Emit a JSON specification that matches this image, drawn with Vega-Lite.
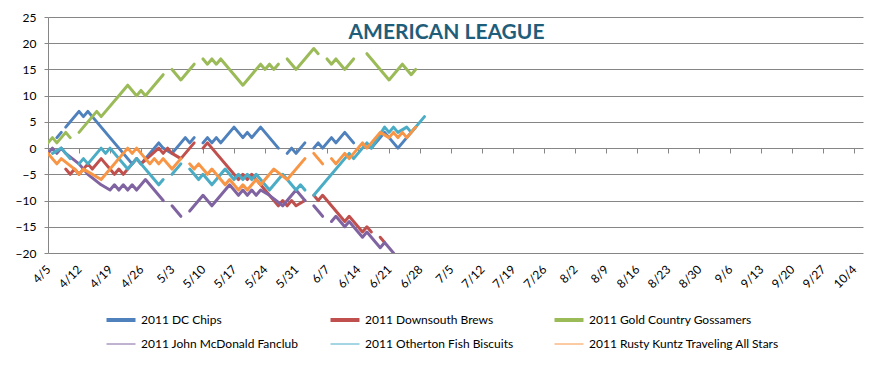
{
"$schema":"https://vega.github.io/schema/vega-lite/v6.json",
"width":815,"height":236,
"autosize":{"type":"none"},
"padding":{"left":48,"top":17,"right":25,"bottom":115},
"background":"white",
"config":{"view":{"stroke":null},"font":"Lato"},
"title":{"text":"AMERICAN LEAGUE","font":"Lato","fontSize":21,"fontWeight":"bold","color":"#1F5E7A","anchor":"middle","frame":"group","baseline":"alphabetic","offset":0,"dy":49,"dx":-9},
"datasets":{"teams":[
{"t":"DC","team":"2011 DC Chips"},
{"t":"DB","team":"2011 Downsouth  Brews"},
{"t":"G","team":"2011 Gold Country Gossamers"},
{"t":"JM","team":"2011 John McDonald  Fanclub"},
{"t":"OF","team":"2011 Otherton Fish Biscuits"},
{"t":"RK","team":"2011 Rusty Kuntz Traveling All Stars"}
]},
"data":{"values":[
{"t":"DC","d":"2011-04-07","v":2,"s":1},{"t":"DC","d":"2011-04-08","v":3,"s":1},
{"t":"DC","d":"2011-04-09","v":4,"s":2},{"t":"DC","d":"2011-04-12","v":7,"s":2},{"t":"DC","d":"2011-04-13","v":6,"s":2},{"t":"DC","d":"2011-04-14","v":7,"s":2},{"t":"DC","d":"2011-04-15","v":6,"s":2},{"t":"DC","d":"2011-04-21","v":0,"s":2},{"t":"DC","d":"2011-04-24","v":-3,"s":2},{"t":"DC","d":"2011-04-25","v":-2,"s":2},{"t":"DC","d":"2011-04-26","v":-3,"s":2},{"t":"DC","d":"2011-04-30","v":1,"s":2},{"t":"DC","d":"2011-05-01","v":0,"s":2},{"t":"DC","d":"2011-05-03","v":-1,"s":2},{"t":"DC","d":"2011-05-06","v":2,"s":2},{"t":"DC","d":"2011-05-07","v":1,"s":2},{"t":"DC","d":"2011-05-08","v":2,"s":2},
{"t":"DC","d":"2011-05-10","v":1,"s":3},{"t":"DC","d":"2011-05-11","v":2,"s":3},{"t":"DC","d":"2011-05-12","v":1,"s":3},{"t":"DC","d":"2011-05-13","v":2,"s":3},{"t":"DC","d":"2011-05-14","v":1,"s":3},{"t":"DC","d":"2011-05-17","v":4,"s":3},{"t":"DC","d":"2011-05-19","v":2,"s":3},{"t":"DC","d":"2011-05-20","v":3,"s":3},{"t":"DC","d":"2011-05-21","v":2,"s":3},{"t":"DC","d":"2011-05-23","v":4,"s":3},{"t":"DC","d":"2011-05-27","v":0,"s":3},
{"t":"DC","d":"2011-05-29","v":-1,"s":4},{"t":"DC","d":"2011-05-30","v":0,"s":4},{"t":"DC","d":"2011-05-31","v":-1,"s":4},{"t":"DC","d":"2011-06-02","v":1,"s":4},
{"t":"DC","d":"2011-06-04","v":0,"s":5},{"t":"DC","d":"2011-06-05","v":1,"s":5},{"t":"DC","d":"2011-06-06","v":0,"s":5},{"t":"DC","d":"2011-06-08","v":2,"s":5},{"t":"DC","d":"2011-06-09","v":1,"s":5},{"t":"DC","d":"2011-06-11","v":3,"s":5},{"t":"DC","d":"2011-06-13","v":1,"s":5},
{"t":"DC","d":"2011-06-17","v":0,"s":6},{"t":"DC","d":"2011-06-20","v":3,"s":6},{"t":"DC","d":"2011-06-23","v":0,"s":6},{"t":"DC","d":"2011-06-27","v":4,"s":6},

{"t":"DB","d":"2011-04-09","v":-4,"s":1},{"t":"DB","d":"2011-04-10","v":-5,"s":1},{"t":"DB","d":"2011-04-11","v":-4,"s":1},{"t":"DB","d":"2011-04-12","v":-5,"s":1},{"t":"DB","d":"2011-04-14","v":-3,"s":1},{"t":"DB","d":"2011-04-15","v":-4,"s":1},{"t":"DB","d":"2011-04-17","v":-2,"s":1},{"t":"DB","d":"2011-04-20","v":-5,"s":1},{"t":"DB","d":"2011-04-21","v":-4,"s":1},{"t":"DB","d":"2011-04-22","v":-5,"s":1},{"t":"DB","d":"2011-04-24","v":-3,"s":1},{"t":"DB","d":"2011-04-25","v":-2,"s":1},{"t":"DB","d":"2011-04-26","v":-3,"s":1},{"t":"DB","d":"2011-04-30","v":0,"s":1},{"t":"DB","d":"2011-05-01","v":-1,"s":1},{"t":"DB","d":"2011-05-02","v":0,"s":1},{"t":"DB","d":"2011-05-03","v":-1,"s":1},{"t":"DB","d":"2011-05-05","v":-2,"s":1},{"t":"DB","d":"2011-05-08","v":1,"s":1},
{"t":"DB","d":"2011-05-10","v":0,"s":2},{"t":"DB","d":"2011-05-11","v":1,"s":2},{"t":"DB","d":"2011-05-17","v":-5,"s":2},{"t":"DB","d":"2011-05-18","v":-6,"s":2},{"t":"DB","d":"2011-05-19","v":-5,"s":2},{"t":"DB","d":"2011-05-20","v":-6,"s":2},{"t":"DB","d":"2011-05-21","v":-5,"s":2},{"t":"DB","d":"2011-05-22","v":-6,"s":2},{"t":"DB","d":"2011-05-27","v":-11,"s":2},{"t":"DB","d":"2011-05-28","v":-10,"s":2},{"t":"DB","d":"2011-05-29","v":-11,"s":2},{"t":"DB","d":"2011-05-30","v":-10,"s":2},{"t":"DB","d":"2011-05-31","v":-11,"s":2},{"t":"DB","d":"2011-06-02","v":-10,"s":2},
{"t":"DB","d":"2011-06-04","v":-9,"s":3},{"t":"DB","d":"2011-06-05","v":-10,"s":3},{"t":"DB","d":"2011-06-06","v":-9,"s":3},{"t":"DB","d":"2011-06-11","v":-14,"s":3},{"t":"DB","d":"2011-06-12","v":-13,"s":3},{"t":"DB","d":"2011-06-14","v":-15,"s":3},{"t":"DB","d":"2011-06-15","v":-16,"s":3},{"t":"DB","d":"2011-06-16","v":-15,"s":3},{"t":"DB","d":"2011-06-17","v":-16,"s":3},
{"t":"DB","d":"2011-06-19","v":-17,"s":4},{"t":"DB","d":"2011-06-20","v":-18,"s":4},

{"t":"G","d":"2011-04-05","v":1,"s":1},{"t":"G","d":"2011-04-06","v":2,"s":1},{"t":"G","d":"2011-04-07","v":1,"s":1},{"t":"G","d":"2011-04-09","v":3,"s":1},{"t":"G","d":"2011-04-10","v":2,"s":1},
{"t":"G","d":"2011-04-12","v":3,"s":2},{"t":"G","d":"2011-04-16","v":7,"s":2},{"t":"G","d":"2011-04-17","v":6,"s":2},{"t":"G","d":"2011-04-21","v":10,"s":2},{"t":"G","d":"2011-04-23","v":12,"s":2},{"t":"G","d":"2011-04-25","v":10,"s":2},{"t":"G","d":"2011-04-26","v":11,"s":2},{"t":"G","d":"2011-04-27","v":10,"s":2},{"t":"G","d":"2011-05-01","v":14,"s":2},
{"t":"G","d":"2011-05-03","v":15,"s":3},{"t":"G","d":"2011-05-05","v":13,"s":3},{"t":"G","d":"2011-05-08","v":16,"s":3},
{"t":"G","d":"2011-05-10","v":17,"s":4},{"t":"G","d":"2011-05-11","v":16,"s":4},{"t":"G","d":"2011-05-12","v":17,"s":4},{"t":"G","d":"2011-05-13","v":16,"s":4},{"t":"G","d":"2011-05-14","v":17,"s":4},{"t":"G","d":"2011-05-19","v":12,"s":4},{"t":"G","d":"2011-05-23","v":16,"s":4},{"t":"G","d":"2011-05-24","v":15,"s":4},{"t":"G","d":"2011-05-25","v":16,"s":4},{"t":"G","d":"2011-05-26","v":15,"s":4},{"t":"G","d":"2011-05-27","v":16,"s":4},
{"t":"G","d":"2011-05-29","v":17,"s":5},{"t":"G","d":"2011-05-31","v":15,"s":5},{"t":"G","d":"2011-06-04","v":19,"s":5},{"t":"G","d":"2011-06-05","v":18,"s":5},
{"t":"G","d":"2011-06-07","v":17,"s":6},{"t":"G","d":"2011-06-08","v":16,"s":6},{"t":"G","d":"2011-06-09","v":17,"s":6},{"t":"G","d":"2011-06-11","v":15,"s":6},{"t":"G","d":"2011-06-13","v":17,"s":6},
{"t":"G","d":"2011-06-16","v":18,"s":7},{"t":"G","d":"2011-06-21","v":13,"s":7},{"t":"G","d":"2011-06-24","v":16,"s":7},{"t":"G","d":"2011-06-26","v":14,"s":7},{"t":"G","d":"2011-06-27","v":15,"s":7},

{"t":"JM","d":"2011-04-05","v":-1,"s":1},{"t":"JM","d":"2011-04-06","v":0,"s":1},{"t":"JM","d":"2011-04-07","v":-1,"s":1},{"t":"JM","d":"2011-04-08","v":0,"s":1},{"t":"JM","d":"2011-04-09","v":-1,"s":1},{"t":"JM","d":"2011-04-12","v":-3,"s":1},{"t":"JM","d":"2011-04-14","v":-5,"s":1},{"t":"JM","d":"2011-04-17","v":-7,"s":1},{"t":"JM","d":"2011-04-19","v":-8,"s":1},{"t":"JM","d":"2011-04-20","v":-7,"s":1},{"t":"JM","d":"2011-04-21","v":-8,"s":1},{"t":"JM","d":"2011-04-22","v":-7,"s":1},{"t":"JM","d":"2011-04-23","v":-8,"s":1},{"t":"JM","d":"2011-04-24","v":-7,"s":1},{"t":"JM","d":"2011-04-25","v":-8,"s":1},{"t":"JM","d":"2011-04-27","v":-6,"s":1},{"t":"JM","d":"2011-05-01","v":-10,"s":1},
{"t":"JM","d":"2011-05-03","v":-11,"s":2},{"t":"JM","d":"2011-05-05","v":-13,"s":2},
{"t":"JM","d":"2011-05-07","v":-12,"s":3},{"t":"JM","d":"2011-05-10","v":-9,"s":3},{"t":"JM","d":"2011-05-12","v":-11,"s":3},{"t":"JM","d":"2011-05-16","v":-7,"s":3},{"t":"JM","d":"2011-05-18","v":-9,"s":3},{"t":"JM","d":"2011-05-19","v":-8,"s":3},{"t":"JM","d":"2011-05-20","v":-9,"s":3},{"t":"JM","d":"2011-05-21","v":-8,"s":3},{"t":"JM","d":"2011-05-22","v":-9,"s":3},{"t":"JM","d":"2011-05-23","v":-8,"s":3},{"t":"JM","d":"2011-05-25","v":-9,"s":3},{"t":"JM","d":"2011-05-28","v":-11,"s":3},{"t":"JM","d":"2011-05-29","v":-10,"s":3},{"t":"JM","d":"2011-05-31","v":-8,"s":3},{"t":"JM","d":"2011-06-02","v":-10,"s":3},
{"t":"JM","d":"2011-06-04","v":-11,"s":4},{"t":"JM","d":"2011-06-06","v":-13,"s":4},
{"t":"JM","d":"2011-06-08","v":-14,"s":5},{"t":"JM","d":"2011-06-09","v":-13,"s":5},{"t":"JM","d":"2011-06-11","v":-15,"s":5},{"t":"JM","d":"2011-06-12","v":-14,"s":5},{"t":"JM","d":"2011-06-13","v":-15,"s":5},{"t":"JM","d":"2011-06-15","v":-17,"s":5},{"t":"JM","d":"2011-06-16","v":-16,"s":5},{"t":"JM","d":"2011-06-17","v":-17,"s":5},{"t":"JM","d":"2011-06-19","v":-19,"s":5},{"t":"JM","d":"2011-06-20","v":-18,"s":5},{"t":"JM","d":"2011-06-22","v":-20,"s":5},

{"t":"OF","d":"2011-04-06","v":-1,"s":1},{"t":"OF","d":"2011-04-08","v":0,"s":1},{"t":"OF","d":"2011-04-10","v":-2,"s":1},
{"t":"OF","d":"2011-04-12","v":-3,"s":2},{"t":"OF","d":"2011-04-13","v":-2,"s":2},{"t":"OF","d":"2011-04-14","v":-3,"s":2},{"t":"OF","d":"2011-04-17","v":0,"s":2},{"t":"OF","d":"2011-04-18","v":-1,"s":2},{"t":"OF","d":"2011-04-19","v":0,"s":2},{"t":"OF","d":"2011-04-23","v":-4,"s":2},{"t":"OF","d":"2011-04-24","v":-3,"s":2},{"t":"OF","d":"2011-04-25","v":-2,"s":2},{"t":"OF","d":"2011-04-30","v":-7,"s":2},{"t":"OF","d":"2011-05-01","v":-6,"s":2},
{"t":"OF","d":"2011-05-03","v":-5,"s":3},{"t":"OF","d":"2011-05-05","v":-3,"s":3},
{"t":"OF","d":"2011-05-07","v":-4,"s":4},{"t":"OF","d":"2011-05-09","v":-6,"s":4},{"t":"OF","d":"2011-05-10","v":-5,"s":4},{"t":"OF","d":"2011-05-12","v":-7,"s":4},{"t":"OF","d":"2011-05-15","v":-4,"s":4},{"t":"OF","d":"2011-05-17","v":-6,"s":4},{"t":"OF","d":"2011-05-18","v":-5,"s":4},{"t":"OF","d":"2011-05-19","v":-6,"s":4},{"t":"OF","d":"2011-05-20","v":-5,"s":4},{"t":"OF","d":"2011-05-21","v":-6,"s":4},{"t":"OF","d":"2011-05-22","v":-5,"s":4},{"t":"OF","d":"2011-05-25","v":-8,"s":4},{"t":"OF","d":"2011-05-28","v":-5,"s":4},{"t":"OF","d":"2011-05-31","v":-8,"s":4},{"t":"OF","d":"2011-06-01","v":-7,"s":4},{"t":"OF","d":"2011-06-02","v":-8,"s":4},
{"t":"OF","d":"2011-06-04","v":-9,"s":5},{"t":"OF","d":"2011-06-12","v":-1,"s":5},{"t":"OF","d":"2011-06-13","v":-2,"s":5},{"t":"OF","d":"2011-06-16","v":1,"s":5},{"t":"OF","d":"2011-06-17","v":0,"s":5},{"t":"OF","d":"2011-06-20","v":4,"s":5},{"t":"OF","d":"2011-06-21","v":3,"s":5},{"t":"OF","d":"2011-06-22","v":4,"s":5},{"t":"OF","d":"2011-06-23","v":3,"s":5},{"t":"OF","d":"2011-06-25","v":4,"s":5},{"t":"OF","d":"2011-06-26","v":3,"s":5},{"t":"OF","d":"2011-06-29","v":6,"s":5},

{"t":"RK","d":"2011-04-05","v":-1,"s":1},{"t":"RK","d":"2011-04-07","v":-3,"s":1},{"t":"RK","d":"2011-04-08","v":-2,"s":1},{"t":"RK","d":"2011-04-11","v":-4,"s":1},{"t":"RK","d":"2011-04-12","v":-5,"s":1},{"t":"RK","d":"2011-04-13","v":-4,"s":1},{"t":"RK","d":"2011-04-17","v":-6,"s":1},{"t":"RK","d":"2011-04-23","v":0,"s":1},{"t":"RK","d":"2011-04-24","v":-1,"s":1},{"t":"RK","d":"2011-04-25","v":0,"s":1},{"t":"RK","d":"2011-04-26","v":-1,"s":1},{"t":"RK","d":"2011-04-28","v":-3,"s":1},{"t":"RK","d":"2011-04-29","v":-2,"s":1},{"t":"RK","d":"2011-04-30","v":-3,"s":1},{"t":"RK","d":"2011-05-01","v":-2,"s":1},{"t":"RK","d":"2011-05-03","v":-4,"s":1},{"t":"RK","d":"2011-05-05","v":-2,"s":1},
{"t":"RK","d":"2011-05-07","v":-3,"s":2},{"t":"RK","d":"2011-05-08","v":-4,"s":2},{"t":"RK","d":"2011-05-09","v":-3,"s":2},{"t":"RK","d":"2011-05-11","v":-5,"s":2},{"t":"RK","d":"2011-05-12","v":-4,"s":2},{"t":"RK","d":"2011-05-15","v":-7,"s":2},{"t":"RK","d":"2011-05-16","v":-6,"s":2},{"t":"RK","d":"2011-05-18","v":-8,"s":2},{"t":"RK","d":"2011-05-19","v":-7,"s":2},{"t":"RK","d":"2011-05-20","v":-8,"s":2},{"t":"RK","d":"2011-05-21","v":-7,"s":2},{"t":"RK","d":"2011-05-22","v":-6,"s":2},{"t":"RK","d":"2011-05-23","v":-7,"s":2},{"t":"RK","d":"2011-05-26","v":-4,"s":2},{"t":"RK","d":"2011-05-29","v":-6,"s":2},{"t":"RK","d":"2011-06-02","v":-2,"s":2},
{"t":"RK","d":"2011-06-04","v":-1,"s":3},{"t":"RK","d":"2011-06-06","v":-3,"s":3},
{"t":"RK","d":"2011-06-08","v":-2,"s":4},{"t":"RK","d":"2011-06-09","v":-3,"s":4},{"t":"RK","d":"2011-06-11","v":-1,"s":4},{"t":"RK","d":"2011-06-12","v":-2,"s":4},{"t":"RK","d":"2011-06-15","v":1,"s":4},{"t":"RK","d":"2011-06-16","v":0,"s":4},{"t":"RK","d":"2011-06-19","v":3,"s":4},{"t":"RK","d":"2011-06-21","v":2,"s":4},{"t":"RK","d":"2011-06-22","v":3,"s":4},{"t":"RK","d":"2011-06-23","v":2,"s":4},{"t":"RK","d":"2011-06-24","v":3,"s":4},{"t":"RK","d":"2011-06-25","v":2,"s":4},{"t":"RK","d":"2011-06-27","v":4,"s":4}
]},
"transform":[{"lookup":"t","from":{"data":{"name":"teams"},"key":"t","fields":["team"]}}],
"layer":[
{"mark":{"type":"line","strokeWidth":3,"strokeJoin":"round","strokeCap":"round","clip":true},
 "encoding":{
  "x":{"field":"d","type":"temporal",
   "scale":{"type":"utc","domain":[{"year":2011,"month":4,"date":5,"utc":true},{"year":2011,"month":10,"date":6,"utc":true}]},
   "axis":{"title":null,"orient":"bottom","ticks":false,"domain":false,"grid":false,
    "values":[{"year":2011,"month":4,"date":5,"utc":true},{"year":2011,"month":4,"date":12,"utc":true},{"year":2011,"month":4,"date":19,"utc":true},{"year":2011,"month":4,"date":26,"utc":true},{"year":2011,"month":5,"date":3,"utc":true},{"year":2011,"month":5,"date":10,"utc":true},{"year":2011,"month":5,"date":17,"utc":true},{"year":2011,"month":5,"date":24,"utc":true},{"year":2011,"month":5,"date":31,"utc":true},{"year":2011,"month":6,"date":7,"utc":true},{"year":2011,"month":6,"date":14,"utc":true},{"year":2011,"month":6,"date":21,"utc":true},{"year":2011,"month":6,"date":28,"utc":true},{"year":2011,"month":7,"date":5,"utc":true},{"year":2011,"month":7,"date":12,"utc":true},{"year":2011,"month":7,"date":19,"utc":true},{"year":2011,"month":7,"date":26,"utc":true},{"year":2011,"month":8,"date":2,"utc":true},{"year":2011,"month":8,"date":9,"utc":true},{"year":2011,"month":8,"date":16,"utc":true},{"year":2011,"month":8,"date":23,"utc":true},{"year":2011,"month":8,"date":30,"utc":true},{"year":2011,"month":9,"date":6,"utc":true},{"year":2011,"month":9,"date":13,"utc":true},{"year":2011,"month":9,"date":20,"utc":true},{"year":2011,"month":9,"date":27,"utc":true},{"year":2011,"month":10,"date":4,"utc":true}],
    "labelExpr":"utcFormat(datum.value, '%-m/%-d')","labelAngle":-45,"labelAlign":"right","labelBaseline":"middle","labelPadding":14,"labelFont":"Lato","labelFontSize":12,"labelColor":"#000000","labelOverlap":false,"labelBound":false,"labelFlush":false}},
  "y":{"field":"v","type":"quantitative","scale":{"domain":[-20,25],"nice":false,"zero":false},
   "axis":{"title":null,"values":[-20,-15,-10,-5,0,5,10,15,20,25],"grid":true,"gridColor":"#868686","gridWidth":1,"domainColor":"#868686","tickColor":"#868686","tickSize":4,"labelPadding":8,"labelFont":"Lato","labelFontSize":12,"labelColor":"#000000"}},
  "color":{"field":"team","type":"nominal",
   "scale":{"domain":["2011 DC Chips","2011 Downsouth  Brews","2011 Gold Country Gossamers","2011 John McDonald  Fanclub","2011 Otherton Fish Biscuits","2011 Rusty Kuntz Traveling All Stars"],"range":["#4F81BD","#C0504D","#9BBB59","#8064A2","#4BACC6","#F79646"]},
   "legend":{"title":null,"orient":"none","legendX":67,"legendY":297,"direction":"horizontal","columns":3,"gridAlign":"all","symbolType":"stroke","symbolSize":841,"symbolStrokeWidth":4,"columnPadding":-10,"rowPadding":10,"labelFont":"Lato","labelFontSize":12,"labelColor":"#000000","labelOffset":14,"labelLimit":400,
    "encode":{"symbols":{"update":{"strokeWidth":{"signal":"datum.index < 3 ? 4 : 1"}}}}}},
  "detail":{"field":"s","type":"nominal"}
 }},
{"mark":{"type":"line","opacity":0},
 "encoding":{
  "x":{"field":"d","type":"temporal",
   "axis":{"title":null,"orient":"bottom","offset":-105,"labels":false,"ticks":true,"tickSize":5,"tickColor":"#868686","domain":false,"grid":false,
    "values":[{"year":2011,"month":4,"date":5,"utc":true},{"year":2011,"month":4,"date":12,"utc":true},{"year":2011,"month":4,"date":19,"utc":true},{"year":2011,"month":4,"date":26,"utc":true},{"year":2011,"month":5,"date":3,"utc":true},{"year":2011,"month":5,"date":10,"utc":true},{"year":2011,"month":5,"date":17,"utc":true},{"year":2011,"month":5,"date":24,"utc":true},{"year":2011,"month":5,"date":31,"utc":true},{"year":2011,"month":6,"date":7,"utc":true},{"year":2011,"month":6,"date":14,"utc":true},{"year":2011,"month":6,"date":21,"utc":true},{"year":2011,"month":6,"date":28,"utc":true},{"year":2011,"month":7,"date":5,"utc":true},{"year":2011,"month":7,"date":12,"utc":true},{"year":2011,"month":7,"date":19,"utc":true},{"year":2011,"month":7,"date":26,"utc":true},{"year":2011,"month":8,"date":2,"utc":true},{"year":2011,"month":8,"date":9,"utc":true},{"year":2011,"month":8,"date":16,"utc":true},{"year":2011,"month":8,"date":23,"utc":true},{"year":2011,"month":8,"date":30,"utc":true},{"year":2011,"month":9,"date":6,"utc":true},{"year":2011,"month":9,"date":13,"utc":true},{"year":2011,"month":9,"date":20,"utc":true},{"year":2011,"month":9,"date":27,"utc":true},{"year":2011,"month":10,"date":4,"utc":true}]}},
  "y":{"field":"v","type":"quantitative","axis":null},
  "detail":{"field":"t","type":"nominal"}
 }}
],
"resolve":{"axis":{"x":"independent","y":"independent"}}
}
